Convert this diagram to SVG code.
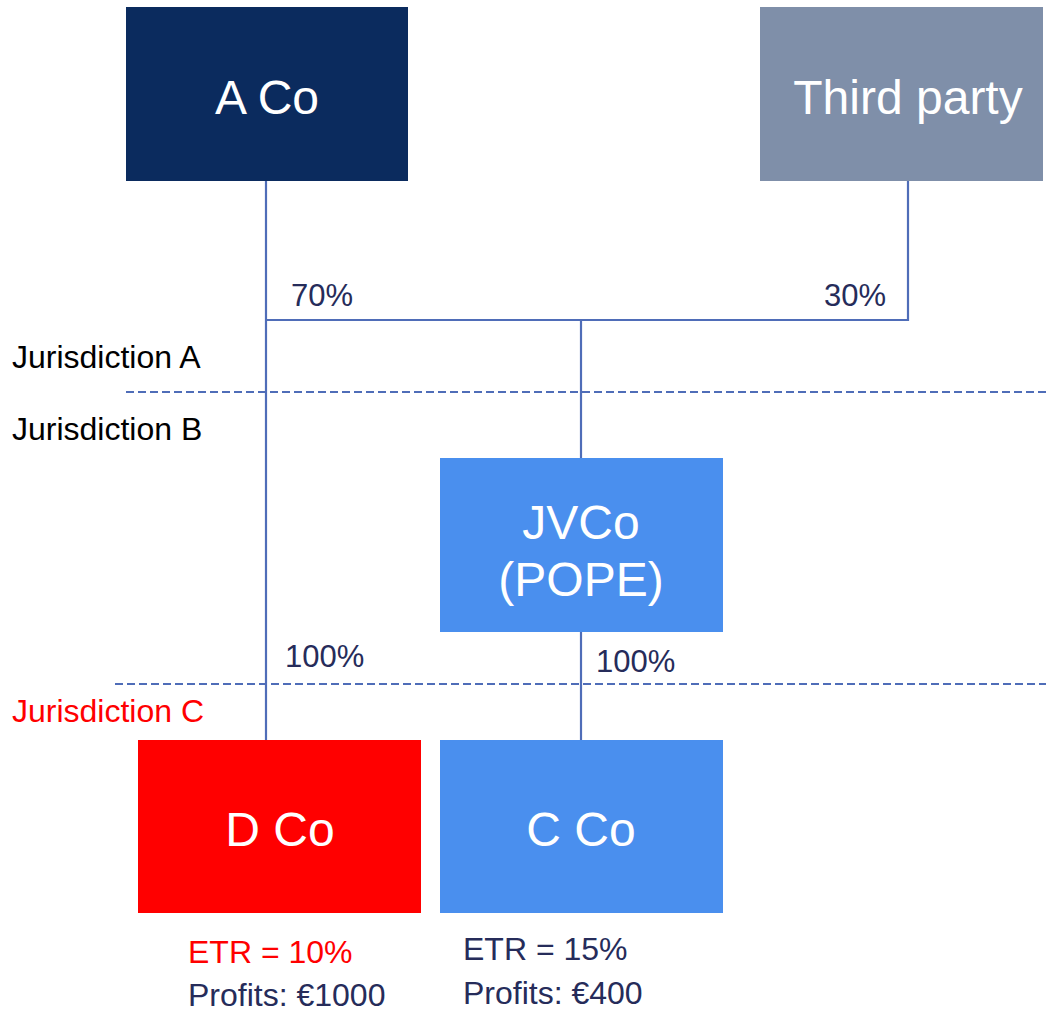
<svg xmlns="http://www.w3.org/2000/svg" width="1048" height="1011" viewBox="0 0 1048 1011">
  <style>
    .box-label { font-family: "Liberation Sans", Arial, sans-serif; fill: #ffffff; text-anchor: middle; font-size: 48px; }
    .pct { font-family: "Liberation Sans", Arial, sans-serif; font-size: 31px; fill: #262C5A; }
    .juris { font-family: "Liberation Sans", Arial, sans-serif; font-size: 32px; fill: #000000; }
    .note { font-family: "Liberation Sans", Arial, sans-serif; font-size: 32px; fill: #262C5A; }
    .link { stroke: #4F6DB8; stroke-width: 2.2; fill: none; }
    .border { stroke: #4F6DB8; stroke-width: 2; stroke-dasharray: 8 4; fill: none; }
    .red { fill: #FF0000; }
  </style>

  <!-- jurisdiction boundaries -->
  <g id="boundaries">
    <line class="border" x1="126" y1="392" x2="1048" y2="392"/>
    <line class="border" x1="115" y1="684" x2="1046" y2="684"/>
  </g>

  <!-- ownership links -->
  <g id="connectors">
    <polyline class="link" points="266,181 266,740"/>
    <polyline class="link" points="266,320 908,320 908,181"/>
    <polyline class="link" points="581,320 581,458"/>
    <polyline class="link" points="581,632 581,740"/>
  </g>

  <g id="ownership-labels">
    <text class="pct" x="291" y="306">70%</text>
    <text class="pct" x="886" y="306" text-anchor="end">30%</text>
    <text class="pct" x="285" y="667">100%</text>
    <text class="pct" x="596" y="672">100%</text>
  </g>

  <g id="jurisdiction-labels">
    <text class="juris" x="12" y="368">Jurisdiction A</text>
    <text class="juris" x="12" y="440">Jurisdiction B</text>
    <text class="juris red" x="12" y="722">Jurisdiction C</text>
  </g>

  <g id="a-co">
    <rect x="126" y="7" width="282" height="174" fill="#0B2B5E"/>
    <text class="box-label" x="267" y="114">A Co</text>
  </g>

  <g id="third-party">
    <rect x="760" y="7" width="283" height="174" fill="#7F8FA9"/>
    <text class="box-label" x="908" y="114">Third party</text>
  </g>

  <g id="jvco">
    <rect x="440" y="458" width="283" height="174" fill="#4A8FEE"/>
    <text class="box-label" x="581" y="539" font-size="47">JVCo</text>
    <text class="box-label" x="581" y="596" font-size="47">(POPE)</text>
  </g>

  <g id="d-co">
    <rect x="138" y="740" width="283" height="173" fill="#FF0000"/>
    <text class="box-label" x="280" y="846">D Co</text>
  </g>

  <g id="c-co">
    <rect x="440" y="740" width="283" height="173" fill="#4A8FEE"/>
    <text class="box-label" x="581" y="846">C Co</text>
  </g>

  <g id="d-co-notes">
    <text class="note red" x="188" y="963">ETR = 10%</text>
    <text class="note" x="188" y="1006">Profits: €1000</text>
  </g>

  <g id="c-co-notes">
    <text class="note" x="463" y="960">ETR = 15%</text>
    <text class="note" x="463" y="1004">Profits: €400</text>
  </g>
</svg>
